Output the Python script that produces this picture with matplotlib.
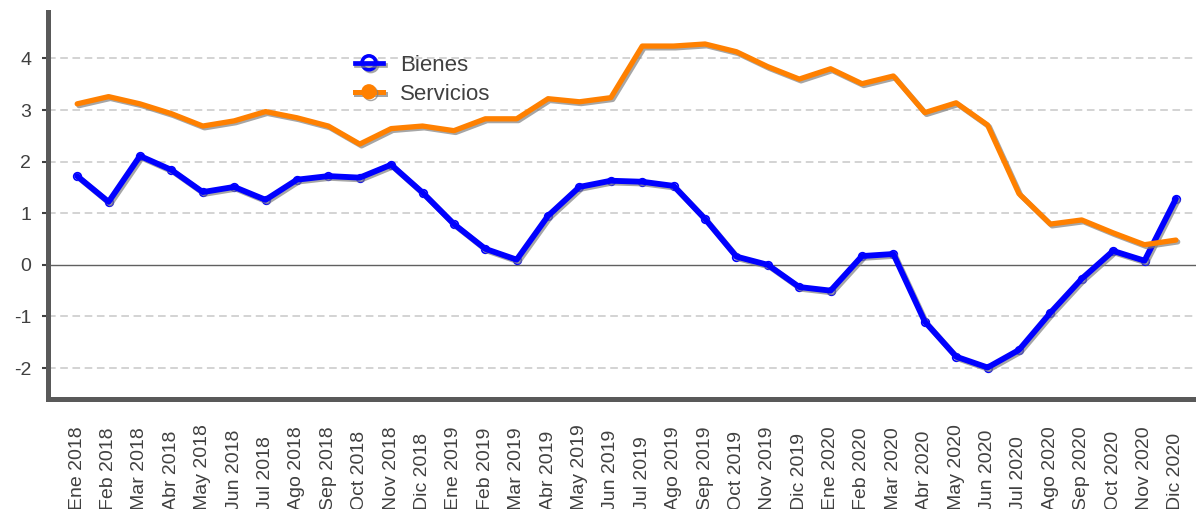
import numpy as np
import matplotlib
matplotlib.use('Agg')
import matplotlib.pyplot as plt
import matplotlib.patheffects as pe
from matplotlib.lines import Line2D
from matplotlib.legend_handler import HandlerTuple

plt.rc('font', family=['Liberation Sans', 'DejaVu Sans'])

meses = ['Ene', 'Feb', 'Mar', 'Abr', 'May', 'Jun', 'Jul', 'Ago', 'Sep', 'Oct', 'Nov', 'Dic']
years = [2018, 2019, 2020]
labels = [f'{m} {y}' for y in years for m in meses]

bienes = [1.72, 1.22, 2.11, 1.84, 1.41, 1.51, 1.26, 1.65, 1.72, 1.69, 1.94, 1.40,
          0.79, 0.31, 0.10, 0.95, 1.51, 1.63, 1.61, 1.53, 0.89, 0.16, 0.00, -0.43,
          -0.50, 0.17, 0.21, -1.10, -1.78, -1.99, -1.65, -0.93, -0.27, 0.27, 0.08, 1.28]
servicios = [3.12, 3.26, 3.12, 2.93, 2.69, 2.79, 2.97, 2.85, 2.69, 2.34, 2.64, 2.69,
             2.60, 2.83, 2.83, 3.22, 3.16, 3.24, 4.24, 4.24, 4.28, 4.13, 3.84, 3.60,
             3.80, 3.51, 3.66, 2.95, 3.14, 2.71, 1.38, 0.79, 0.87, 0.62, 0.39, 0.48]

BLUE = '#0000FF'
ORANGE = '#FF8000'
TXT = '#404040'

fig = plt.figure(figsize=(11.96, 5.09), dpi=100)
ax = fig.add_axes([48 / 1196, 110 / 509, 1148 / 1196, 387 / 509])

x = np.arange(len(labels))
shadow = [pe.SimpleLineShadow(offset=(1.3, -1.3), shadow_color='#808080', alpha=0.7), pe.Normal()]

# grid
for v in [-2, -1, 1, 2, 3, 4]:
    ax.axhline(v, color='#c8c8c8', lw=1.1, ls=(0, (5, 3)), zorder=1)
ax.axhline(0, color='#606060', lw=1.0, zorder=1)

# markers under the lines so only the ends show the open circles
ax.plot(x, bienes, ls='none', marker='o', ms=5.5, mfc='#e8e8ff', mec=BLUE, mew=1.2, zorder=2)
ax.plot(x, bienes, color=BLUE, lw=4.2, solid_joinstyle='round', solid_capstyle='round',
        path_effects=shadow, zorder=3)
ax.plot(x, servicios, color=ORANGE, lw=3.8, solid_joinstyle='round', solid_capstyle='round',
        path_effects=shadow, zorder=3)

h_bienes = (Line2D([], [], ls='none', marker='o', ms=10, mfc='white', mec=BLUE, mew=2.6,
                   path_effects=shadow),
            Line2D([], [], color=BLUE, lw=3.4, path_effects=shadow))
h_serv = (Line2D([], [], color=ORANGE, lw=3.6, path_effects=shadow),
          Line2D([], [], ls='none', marker='o', ms=10, mfc=ORANGE, mec=ORANGE,
                 path_effects=shadow))
leg = ax.legend([h_bienes, h_serv], ['Bienes', 'Servicios'],
                handler_map={tuple: HandlerTuple(ndivide=1)},
                loc='upper left', bbox_to_anchor=(0.267, 0.89),
                frameon=False, fontsize=16, handlelength=1.3, handletextpad=0.75,
                labelspacing=0.36, borderaxespad=0, borderpad=0)
for t in leg.get_texts():
    t.set_color(TXT)

ax.set_xlim(-0.93, 35.64)
ax.set_ylim(-2.6, 4.9)
ax.set_yticks([-2, -1, 0, 1, 2, 3, 4])
ax.set_yticklabels(['-2', '-1', '0', '1', '2', '3', '4'])
ax.set_xticks(x)
ax.set_xticklabels(labels, rotation=90, va='bottom')

ax.tick_params(axis='y', labelsize=14, colors=TXT, length=4, width=1.5, pad=8)
ax.tick_params(axis='x', labelsize=14, colors=TXT, length=0, pad=80)

for s in ['top', 'right']:
    ax.spines[s].set_visible(False)
for s in ['left', 'bottom']:
    ax.spines[s].set_color('#595959')
    ax.spines[s].set_linewidth(3.6)

fig.savefig('out.png', dpi=100)
